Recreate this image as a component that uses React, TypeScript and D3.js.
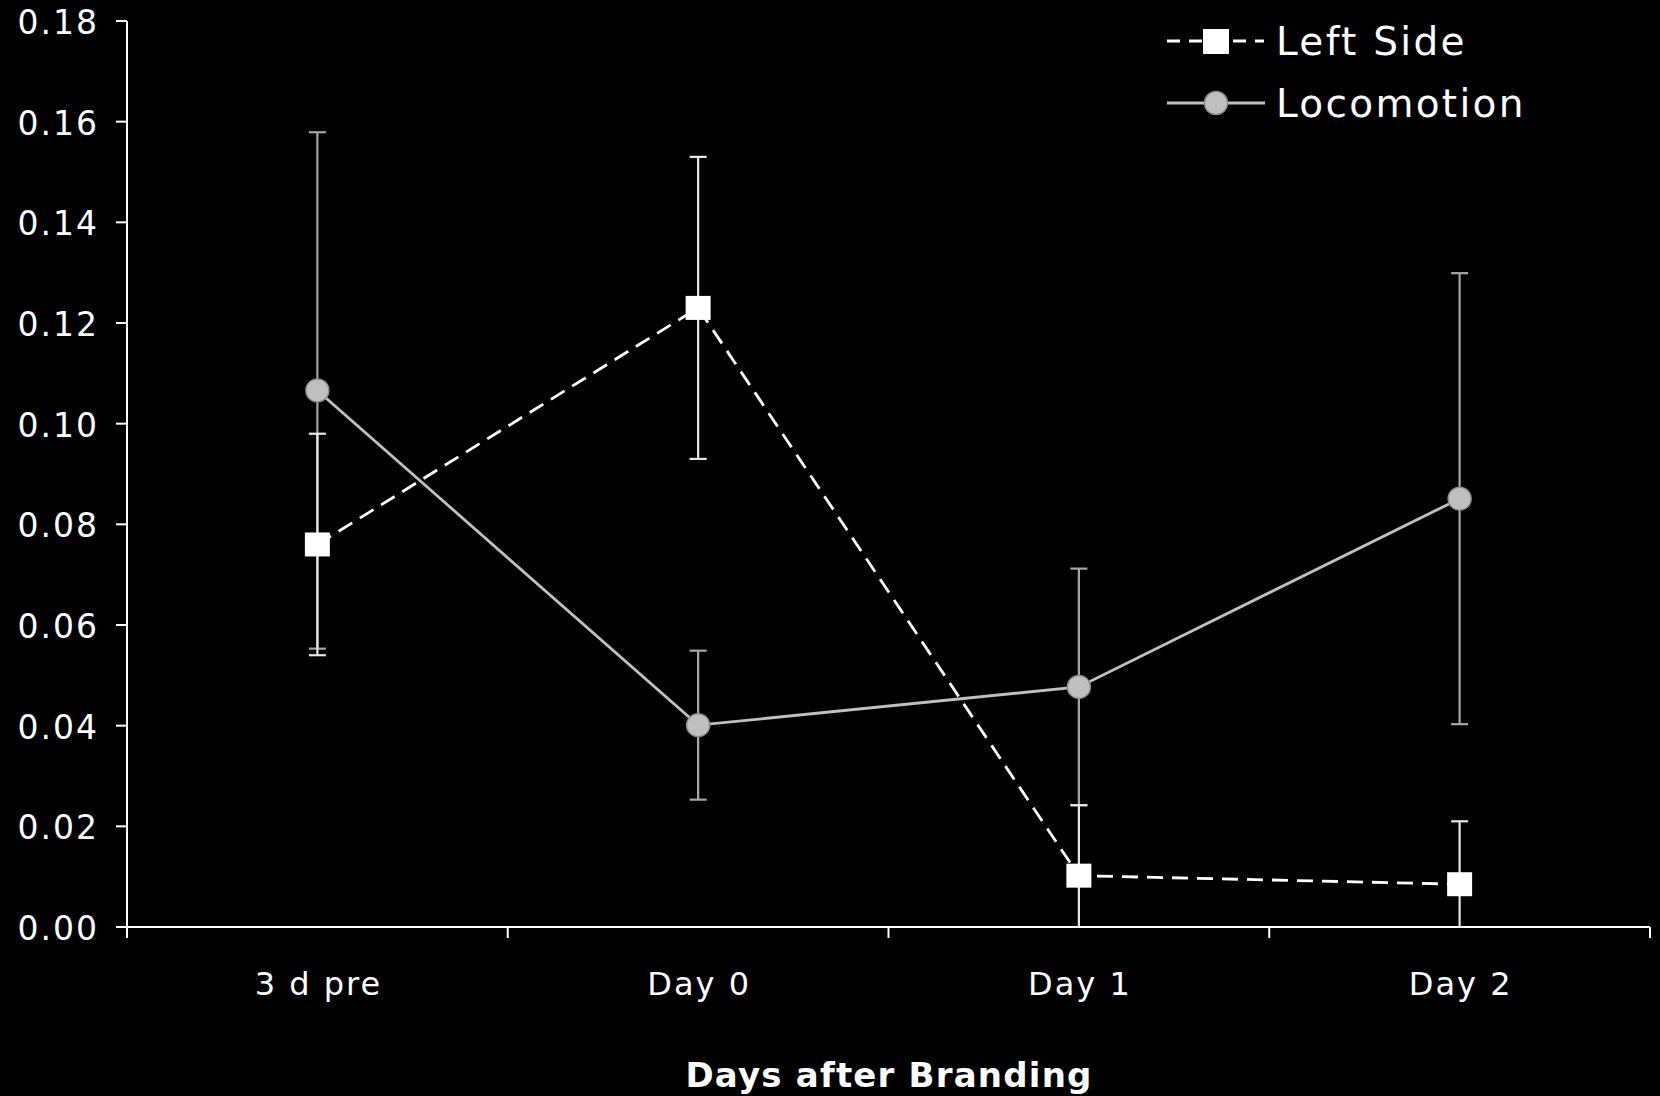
import React, { useEffect, useRef } from 'react';
import * as d3 from 'd3';

// chart values
const categories = ['3 d pre', 'Day 0', 'Day 1', 'Day 2'];
const leftSide = [0.076, 0.123, 0.0102, 0.0085];
const leftSideErr = [0.022, 0.030, 0.014, 0.0125];
const locomotion = [0.1066, 0.0401, 0.0477, 0.0851];
const locomotionErr = [0.0513, 0.0148, 0.0235, 0.0448];
const yTicks = [0, 0.02, 0.04, 0.06, 0.08, 0.1, 0.12, 0.14, 0.16, 0.18];
const xTitle = 'Days after Branding';
const seriesNames = ['Left Side', 'Locomotion'];

const W = 1660;
const H = 1096;
const FONT = '"DejaVu Sans", Verdana, sans-serif';

const App = () => {
  const ref = useRef<SVGSVGElement | null>(null);

  useEffect(() => {
    if (!ref.current) return;
    const svg = d3.select(ref.current);
    svg.selectAll('*').remove();

    svg.append('rect').attr('width', W).attr('height', H).attr('fill', '#000');

    const x = d3.scaleBand().domain(categories).range([127, 1650]);
    const y = d3.scaleLinear().domain([0, 0.18]).range([927, 21]);
    const cx = (c: string) => (x(c) as number) + x.bandwidth() / 2;

    // y axis
    const yAxis = svg.append('g');
    yAxis.append('line')
      .attr('x1', 127).attr('x2', 127)
      .attr('y1', y(0)).attr('y2', y(0.18))
      .attr('stroke', '#fff').attr('stroke-width', 2);
    yTicks.forEach(t => {
      yAxis.append('line')
        .attr('x1', 116).attr('x2', 127)
        .attr('y1', y(t)).attr('y2', y(t))
        .attr('stroke', '#fff').attr('stroke-width', 2);
      yAxis.append('text')
        .attr('x', 99)
        .attr('y', y(t) + 13)
        .attr('text-anchor', 'end')
        .style('font-family', FONT)
        .style('font-size', '33px')
        .style('letter-spacing', '2px')
        .attr('fill', '#fff')
        .text(d3.format('.2f')(t));
    });

    // x axis
    const xAxis = svg.append('g');
    xAxis.append('line')
      .attr('x1', 127).attr('x2', 1650)
      .attr('y1', y(0)).attr('y2', y(0))
      .attr('stroke', '#fff').attr('stroke-width', 2);
    const bounds = categories.map(c => x(c) as number).concat([x.range()[1]]);
    bounds.forEach(b => {
      xAxis.append('line')
        .attr('x1', b).attr('x2', b)
        .attr('y1', y(0)).attr('y2', y(0) + 11)
        .attr('stroke', '#fff').attr('stroke-width', 2);
    });
    categories.forEach(c => {
      xAxis.append('text')
        .attr('x', cx(c) + 1)
        .attr('y', 995)
        .attr('text-anchor', 'middle')
        .style('font-family', FONT)
        .style('font-size', '32px')
        .style('letter-spacing', '2px')
        .attr('fill', '#fff')
        .text(c);
    });

    svg.append('text')
      .attr('x', 889)
      .attr('y', 1087)
      .attr('text-anchor', 'middle')
      .style('font-family', FONT)
      .style('font-size', '34px')
      .style('font-weight', 'bold')
      .style('letter-spacing', '1.2px')
      .attr('fill', '#fff')
      .text(xTitle);

    // error bars
    const drawErr = (vals: number[], errs: number[], color: string) => {
      const g = svg.append('g');
      vals.forEach((v, i) => {
        const px = cx(categories[i]);
        const hi = v + errs[i];
        const lo = Math.max(0, v - errs[i]);
        g.append('line')
          .attr('x1', px).attr('x2', px)
          .attr('y1', y(hi)).attr('y2', y(lo))
          .attr('stroke', color).attr('stroke-width', 2.2);
        g.append('line')
          .attr('x1', px - 8.5).attr('x2', px + 8.5)
          .attr('y1', y(hi)).attr('y2', y(hi))
          .attr('stroke', color).attr('stroke-width', 2.2);
        if (v - errs[i] > 0) {
          g.append('line')
            .attr('x1', px - 8.5).attr('x2', px + 8.5)
            .attr('y1', y(lo)).attr('y2', y(lo))
            .attr('stroke', color).attr('stroke-width', 2.2);
        }
      });
    };
    drawErr(locomotion, locomotionErr, '#a6a6a6');
    drawErr(leftSide, leftSideErr, '#e6e6e6');

    const line = d3.line<number>()
      .x((d, i) => cx(categories[i]))
      .y(d => y(d));

    svg.append('path')
      .attr('d', line(locomotion))
      .attr('fill', 'none')
      .attr('stroke', '#c0c0c0')
      .attr('stroke-width', 2.8);

    svg.append('path')
      .attr('d', line(leftSide))
      .attr('fill', 'none')
      .attr('stroke', '#fff')
      .attr('stroke-width', 2.8)
      .attr('stroke-dasharray', '16,9');

    // markers
    svg.selectAll('.loco-pt')
      .data(locomotion)
      .enter()
      .append('circle')
      .attr('cx', (d, i) => cx(categories[i]))
      .attr('cy', d => y(d))
      .attr('r', 11.5)
      .attr('fill', '#c0c0c0')
      .attr('stroke', '#8c8c8c')
      .attr('stroke-width', 1.5);

    svg.selectAll('.left-pt')
      .data(leftSide)
      .enter()
      .append('rect')
      .attr('x', (d, i) => cx(categories[i]) - 12.5)
      .attr('y', d => y(d) - 12)
      .attr('width', 25)
      .attr('height', 24)
      .attr('fill', '#fff');

    // legend
    const legend = svg.append('g');
    legend.append('line')
      .attr('x1', 1167).attr('x2', 1264)
      .attr('y1', 41).attr('y2', 41)
      .attr('stroke', '#fff').attr('stroke-width', 2.8)
      .attr('stroke-dasharray', '13,9');
    legend.append('rect')
      .attr('x', 1203).attr('y', 29)
      .attr('width', 26).attr('height', 25)
      .attr('fill', '#fff');
    legend.append('line')
      .attr('x1', 1167).attr('x2', 1265)
      .attr('y1', 103).attr('y2', 103)
      .attr('stroke', '#c0c0c0').attr('stroke-width', 2.8);
    legend.append('circle')
      .attr('cx', 1216).attr('cy', 103).attr('r', 11.5)
      .attr('fill', '#c0c0c0')
      .attr('stroke', '#8c8c8c')
      .attr('stroke-width', 1.5);
    seriesNames.forEach((n, i) => {
      legend.append('text')
        .attr('x', 1276)
        .attr('y', 55 + i * 62)
        .style('font-family', FONT)
        .style('font-size', '39px')
        .style('letter-spacing', '2.3px')
        .attr('fill', '#fff')
        .text(n);
    });
  }, []);

  return (
    <div style={{ position: 'absolute', left: 0, top: 0, width: W, height: H, background: '#000' }}>
      <svg ref={ref} width={W} height={H} style={{ display: 'block' }} />
    </div>
  );
};

export default App;
